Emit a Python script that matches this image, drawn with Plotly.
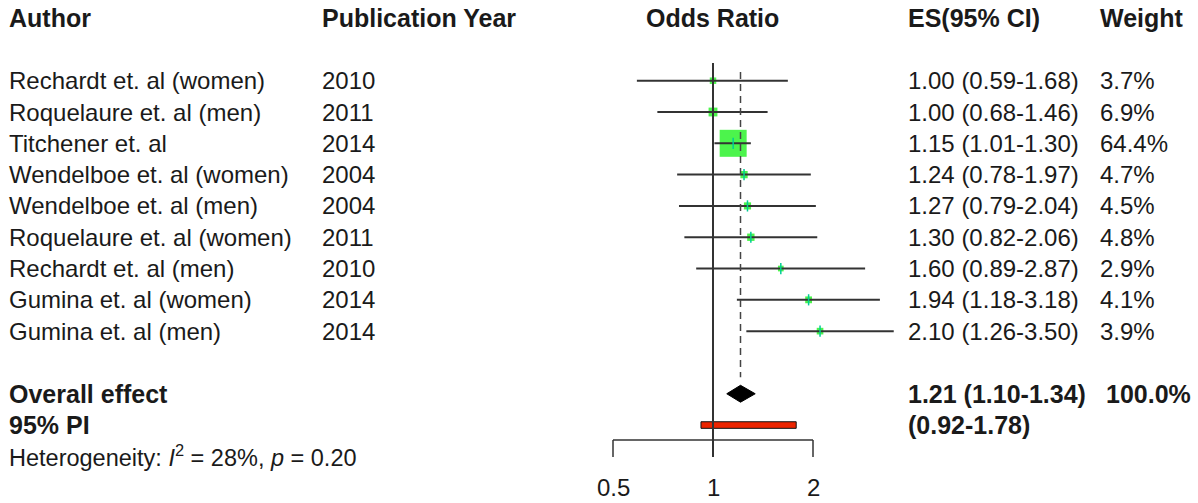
import math
import plotly.graph_objects as go

# ---- study data ----
authors = [
    "Rechardt et. al (women)",
    "Roquelaure et. al (men)",
    "Titchener et. al",
    "Wendelboe et. al (women)",
    "Wendelboe et. al (men)",
    "Roquelaure et. al (women)",
    "Rechardt et. al (men)",
    "Gumina et. al (women)",
    "Gumina et. al (men)",
]
years = ["2010", "2011", "2014", "2004", "2004", "2011", "2010", "2014", "2014"]
odds = [1.00, 1.00, 1.15, 1.24, 1.27, 1.30, 1.60, 1.94, 2.10]
ci_low = [0.59, 0.68, 1.01, 0.78, 0.79, 0.82, 0.89, 1.18, 1.26]
ci_high = [1.68, 1.46, 1.30, 1.97, 2.04, 2.06, 2.87, 3.18, 3.50]
weights = [3.7, 6.9, 64.4, 4.7, 4.5, 4.8, 2.9, 4.1, 3.9]

overall_es = 1.21
overall_low = 1.10
overall_high = 1.34
overall_weight = 100.0
pi_low = 0.92
pi_high = 1.78
i2 = 28
p_het = 0.20

axis_ticks = [0.5, 1, 2]
axis_tick_labels = ["0.5", "1", "2"]

# ---- layout constants ----
W, H = 1198, 503
FONT = "Liberation Sans, Arial, Helvetica, sans-serif"
FS = 24
FS_BOLD = 25
TXT = "#1a1a1a"
LINE = "#333333"

rows = list(range(len(authors)))
k_header = -2
k_overall = len(authors) + 1
k_pi = k_overall + 1
k_het = k_pi + 1
k_axis = 11.48
k_tick_end = 12.02
k_tick_lab = 13.0

LOG2 = math.log10(2)
x_range = [-7.13 * LOG2, 4.85 * LOG2]
y_range = [13.49, -2.578]

fig = go.Figure()

# study squares, area proportional to weight
max_w = max(weights)
sizes = [27 * math.sqrt(w / max_w) for w in weights]
fig.add_trace(go.Scatter(
    x=odds, y=rows, mode="markers",
    marker=dict(symbol="square", size=sizes, color="#00f000", line=dict(width=0)),
    hoverinfo="skip", showlegend=False,
))

# confidence interval whiskers
cx, cy = [], []
for lo, hi, k in zip(ci_low, ci_high, rows):
    cx += [lo, hi, None]
    cy += [k, k, None]
fig.add_trace(go.Scatter(
    x=cx, y=cy, mode="lines", line=dict(color=LINE, width=2),
    hoverinfo="skip", showlegend=False,
))

# small vertical tick at each point estimate
fig.add_trace(go.Scatter(
    x=odds, y=rows, mode="markers",
    marker=dict(symbol="line-ns-open", size=8, line=dict(color="#111111", width=1.5)),
    hoverinfo="skip", showlegend=False,
))

# line of no effect and overall-effect reference line
fig.add_shape(type="line", xref="x", yref="y", x0=1, x1=1, y0=-0.565, y1=k_tick_end,
              line=dict(color=LINE, width=2))
fig.add_shape(type="line", xref="x", yref="y", x0=overall_es, x1=overall_es,
              y0=-0.28, y1=9.47, line=dict(color="#444444", width=1.5, dash="7px,5px"))

# pooled-effect diamond
dh = 0.27
fig.add_trace(go.Scatter(
    x=[overall_low, overall_es, overall_high, overall_es, overall_low],
    y=[k_overall, k_overall - dh, k_overall, k_overall + dh, k_overall],
    mode="lines", fill="toself", fillcolor="#000000",
    line=dict(color="#000000", width=1), hoverinfo="skip", showlegend=False,
))

# prediction interval bar
ph = 0.105
fig.add_trace(go.Scatter(
    x=[pi_low, pi_high, pi_high, pi_low, pi_low],
    y=[k_pi - ph, k_pi - ph, k_pi + ph, k_pi + ph, k_pi - ph],
    mode="lines", fill="toself", fillcolor="#ec2400",
    line=dict(color="#111111", width=1), hoverinfo="skip", showlegend=False,
))

# bottom axis
fig.add_shape(type="line", xref="x", yref="y", x0=axis_ticks[0], x1=axis_ticks[-1],
              y0=k_axis, y1=k_axis, line=dict(color=LINE, width=1.5))
for t, lab in zip(axis_ticks, axis_tick_labels):
    fig.add_shape(type="line", xref="x", yref="y", x0=t, x1=t, y0=k_axis, y1=k_tick_end,
                  line=dict(color=LINE, width=1.5))
    fig.add_annotation(x=math.log10(t), y=k_tick_lab, xref="x", yref="y", text=lab,
                       showarrow=False, xanchor="center", yanchor="middle",
                       font=dict(family=FONT, size=FS, color=TXT))


def label(xpx, k, text, bold=False, anchor="left", size=None):
    if size is None:
        size = FS_BOLD if bold else FS
    if bold:
        text = f"<b>{text}</b>"
    fig.add_annotation(x=xpx / W, y=k, xref="paper", yref="y", text=text,
                       showarrow=False, xanchor=anchor, yanchor="middle",
                       font=dict(family=FONT, size=size, color=TXT))


X_AUTH, X_YEAR, X_ES, X_WT = 7, 320, 906, 1098

# header
label(X_AUTH, k_header, "Author", bold=True)
label(X_YEAR, k_header, "Publication Year", bold=True)
label(712, k_header, "Odds Ratio", bold=True, anchor="center")
label(X_ES, k_header, "ES(95% CI)", bold=True)
label(X_WT, k_header, "Weight", bold=True)

# study rows
for k, a, yr, es, lo, hi, w in zip(rows, authors, years, odds, ci_low, ci_high, weights):
    label(X_AUTH, k, a)
    label(X_YEAR, k, yr)
    label(X_ES, k, f"{es:.2f} ({lo:.2f}-{hi:.2f})")
    label(X_WT, k, f"{w:.1f}%")

# summary rows
label(X_AUTH, k_overall, "Overall effect", bold=True)
label(X_ES, k_overall, f"{overall_es:.2f} ({overall_low:.2f}-{overall_high:.2f})", bold=True)
label(X_WT + 6, k_overall, f"{overall_weight:.1f}%", bold=True)
label(X_AUTH, k_pi, "95% PI", bold=True)
label(X_ES, k_pi, f"({pi_low:.2f}-{pi_high:.2f})", bold=True)
label(X_AUTH, k_het,
      f"Heterogeneity: <i>I</i><sup>2</sup> = {i2}%, <i>p</i> = {p_het:.2f}", size=23.5)

fig.update_layout(
    width=W, height=H,
    margin=dict(l=0, r=0, t=0, b=0),
    paper_bgcolor="white", plot_bgcolor="white",
    xaxis=dict(type="log", range=x_range, visible=False, fixedrange=True),
    yaxis=dict(range=y_range, visible=False, fixedrange=True),
    showlegend=False,
)

fig.write_html("out.html")
